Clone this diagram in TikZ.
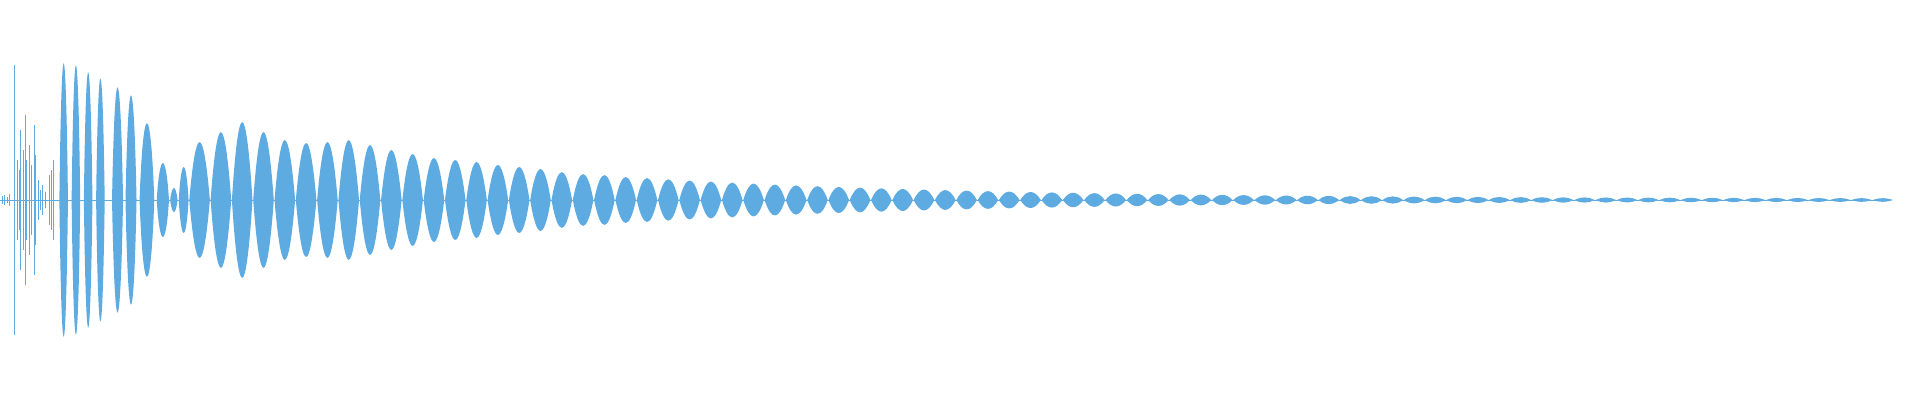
\documentclass[tikz,border=0pt]{standalone}
\definecolor{wave}{RGB}{94,171,226}
\begin{document}
\begin{tikzpicture}[x=1.2245pt,y=-1pt,lobe/.style={fill=wave},spike/.style={draw=wave,line width=0.9pt}]
\useasboundingbox (0,0) rectangle (1568,400);
\draw[wave,line width=0.6pt] (0,200) -- (1536,200);
% early spikes
\foreach \x/\a in {2/4,4/5,6/3,8/6,12/135,14/40,16/30,17/70,19/50,21/85,22/40,24/55,26/35,28/75,29/45,31/20,33/10,35/15,37/8,40/25,42/30,44/40}
  \draw[spike] (\x,200-\a) -- (\x,200+\a);
% early lens bundles
\foreach \x/\a/\w in {52/137/3.5,62/135/3.5,72/128/3.5,82/122/3.5,96/113/4.5,107/105/4.5,120/77/6,133/37/5,142/12/3,150/33/4}
  \fill[lobe] (\x-\w,200) .. controls (\x-\w/2,200-1.33*\a) and (\x+\w/2,200-1.33*\a) .. (\x+\w,200)
     .. controls (\x+\w/2,200+1.33*\a) and (\x-\w/2,200+1.33*\a) .. cycle;
% main beating lobes
\foreach \i in {0,...,79}{
  \pgfmathsetmacro{\x}{163+\i*17.4}
  \pgfmathtruncatemacro{\j}{min(\i,20)}
  \pgfmathsetmacro{\b}{{58,68,78,68,60,57,58,60,55,50,46,42,40,38,35,33,31,28,26,25,23}[\j]}
  \pgfmathsetmacro{\a}{\i<21 ? \b : 22*exp(-(\i-20)/16)+1.3}
  \fill[lobe] (\x-8.4,200) .. controls (\x-3,200-1.33*\a) and (\x+3,200-1.33*\a) .. (\x+8.4,200)
     .. controls (\x+3,200+1.33*\a) and (\x-3,200+1.33*\a) .. cycle;
}
\end{tikzpicture}
\end{document}
